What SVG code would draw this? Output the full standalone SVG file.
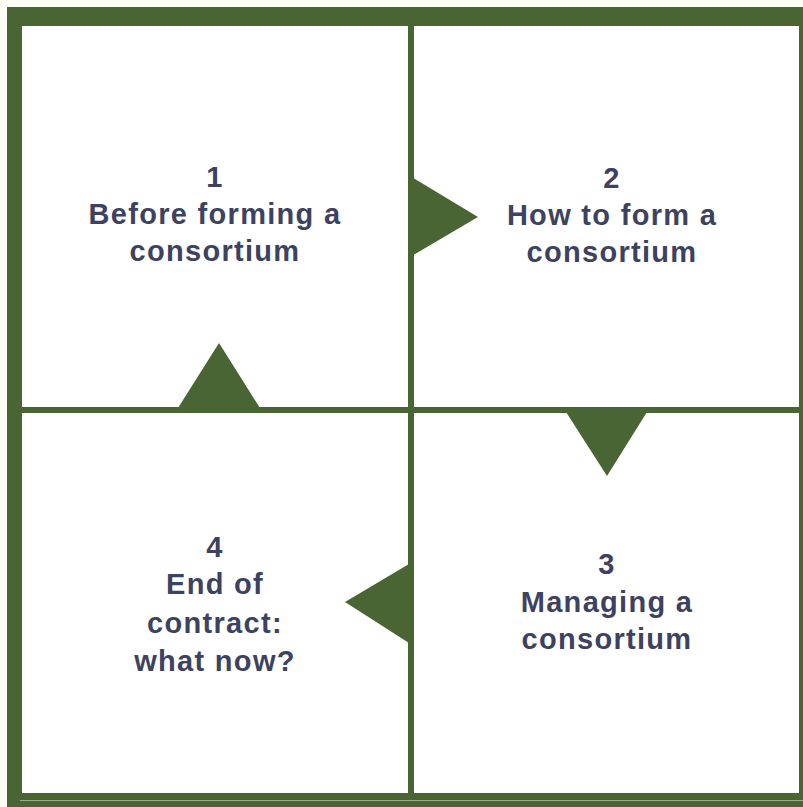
<svg xmlns="http://www.w3.org/2000/svg" width="803" height="807" viewBox="0 0 803 807">
  <style>
    .frame { fill: #4a6534; }
    .cell { fill: #ffffff; }
    .arrow { fill: #4a6534; }
    .label { font-family: "Liberation Sans", Arial, sans-serif; font-weight: bold; font-size: 29px; letter-spacing: 1.3px; fill: #3d4260; text-anchor: middle; }
  </style>

  <!-- page background -->
  <rect x="0" y="0" width="803" height="807" fill="#fdfef5"/>

  <!-- green frame with the four white quadrants cut out -->
  <rect class="frame" x="7" y="7" width="796" height="800"/>
  <line x1="20" y1="800.5" x2="803" y2="800.5" stroke="#9bad8b" stroke-width="1"/>

  <g id="step1">
    <rect class="cell" x="22" y="26" width="386" height="381"/>
    <text class="label" x="215" y="187">1</text>
    <text class="label" x="215" y="224">Before forming a</text>
    <text class="label" x="215" y="261">consortium</text>
  </g>

  <g id="step2">
    <rect class="cell" x="414" y="26" width="385" height="381"/>
    <text class="label" x="612" y="188">2</text>
    <text class="label" x="612" y="225">How to form a</text>
    <text class="label" x="612" y="262">consortium</text>
  </g>

  <g id="step3">
    <rect class="cell" x="414" y="413" width="385" height="380"/>
    <text class="label" x="607" y="574">3</text>
    <text class="label" x="607" y="612">Managing a</text>
    <text class="label" x="607" y="649">consortium</text>
  </g>

  <g id="step4">
    <rect class="cell" x="22" y="413" width="386" height="380"/>
    <text class="label" x="215" y="557">4</text>
    <text class="label" x="215" y="594">End of</text>
    <text class="label" x="215" y="633">contract:</text>
    <text class="label" x="215" y="671">what now?</text>
  </g>

  <!-- cycle arrows between the quadrants -->
  <g id="connectors">
    <polygon class="arrow" points="410,176 478,217 410,257"/>
    <polygon class="arrow" points="566,412 647,412 607,476"/>
    <polygon class="arrow" points="409,564 409,643 345,602"/>
    <polygon class="arrow" points="178,408 260,408 219,343"/>
  </g>
</svg>
